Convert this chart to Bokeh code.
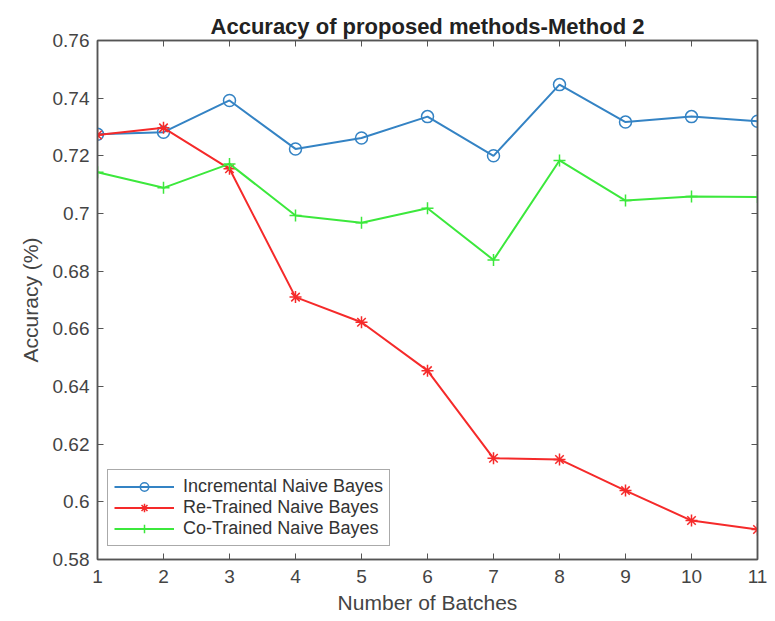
from bokeh.plotting import figure
from bokeh.models import FixedTicker, LinearAxis, Range1d, Legend
from bokeh.embed import file_html
from bokeh.resources import INLINE

batches = [1, 2, 3, 4, 5, 6, 7, 8, 9, 10, 11]
incremental = [0.7275, 0.7282, 0.7392, 0.7224, 0.7262, 0.7336, 0.7200, 0.7447, 0.7317, 0.7336, 0.7320]
retrained = [0.7272, 0.7297, 0.7155, 0.6710, 0.6623, 0.6455, 0.6151, 0.6147, 0.6039, 0.5935, 0.5904]
cotrained = [0.7143, 0.7089, 0.7172, 0.6993, 0.6968, 0.7018, 0.6839, 0.7184, 0.7045, 0.7059, 0.7057]
y_ticks = [0.58, 0.60, 0.62, 0.64, 0.66, 0.68, 0.70, 0.72, 0.74, 0.76]
y_tick_labels = ["0.58", "0.6", "0.62", "0.64", "0.66", "0.68", "0.7", "0.72", "0.74", "0.76"]

FONT = "Liberation Sans"
AXC = "#555555"
TXT = "#444444"

p = figure(width=775, height=621, output_backend="svg", toolbar_location=None,
           x_range=Range1d(1, 11), y_range=Range1d(0.58, 0.76),
           min_border_left=97, min_border_right=18, min_border_top=40, min_border_bottom=62)

p.title.text = "Accuracy of proposed methods-Method 2"
p.title.align = "center"
p.title.text_font = FONT
p.title.text_font_size = "22px"
p.title.text_font_style = "bold"
p.title.text_color = "#222222"
p.title.offset = 0
p.title.standoff = 4

p.grid.visible = False
p.outline_line_color = AXC
p.outline_line_width = 1.5

ymap = dict(zip(y_ticks, y_tick_labels))

for ax in [p.xaxis[0], p.yaxis[0]]:
    ax.major_tick_in = 6
    ax.major_tick_out = 0
    ax.minor_tick_in = 0
    ax.minor_tick_out = 0
    ax.axis_line_color = AXC
    ax.axis_line_width = 1.5
    ax.major_tick_line_color = AXC
    ax.major_label_text_font = FONT
    ax.major_label_text_font_size = "19px"
    ax.major_label_text_color = TXT
    ax.axis_label_text_font = FONT
    ax.axis_label_text_font_size = "21px"
    ax.axis_label_text_font_style = "normal"
    ax.axis_label_text_color = TXT

p.xaxis[0].ticker = FixedTicker(ticks=batches)
p.yaxis[0].ticker = FixedTicker(ticks=y_ticks)
p.yaxis[0].major_label_overrides = {t: l for t, l in ymap.items()}
p.xaxis[0].axis_label = "Number of Batches"
p.yaxis[0].axis_label = "Accuracy (%)"
p.xaxis[0].major_label_standoff = 10
p.yaxis[0].major_label_standoff = 8
p.xaxis[0].axis_label_standoff = 5
p.yaxis[0].axis_label_standoff = 8

right = LinearAxis(ticker=FixedTicker(ticks=y_ticks),
                   major_label_overrides={t: "" for t in y_ticks},
                   major_tick_in=6, major_tick_out=0, minor_tick_in=0, minor_tick_out=0,
                   axis_line_color=AXC, axis_line_width=1.5, major_tick_line_color=AXC)
top = LinearAxis(ticker=FixedTicker(ticks=batches),
                 major_label_overrides={t: "" for t in batches},
                 major_tick_in=6, major_tick_out=0, minor_tick_in=0, minor_tick_out=0,
                 axis_line_color=AXC, axis_line_width=1.5, major_tick_line_color=AXC)
p.add_layout(right, "right")
p.add_layout(top, "above")

BLUE = "#3483c4"
RED = "#f52a2a"
GREEN = "#3ce83c"

l1 = p.line(batches, incremental, line_color=BLUE, line_width=2)
m1 = p.scatter(batches, incremental, marker="circle", size=12, fill_color=None, line_color=BLUE, line_width=1.5)
l2 = p.line(batches, retrained, line_color=RED, line_width=2)
m2 = p.scatter(batches, retrained, marker="asterisk", size=12, line_color=RED, line_width=1.5)
l3 = p.line(batches, cotrained, line_color=GREEN, line_width=2)
m3 = p.scatter(batches, cotrained, marker="cross", size=12, line_color=GREEN, line_width=1.5)

legend = Legend(items=[("Incremental Naive Bayes", [l1, m1]),
                       ("Re-Trained Naive Bayes", [l2, m2]),
                       ("Co-Trained Naive Bayes", [l3, m3])],
                location=(10, 13))
legend.label_text_font = FONT
legend.label_text_font_size = "18px"
legend.label_text_color = "#333333"
legend.glyph_width = 60
legend.glyph_height = 21
legend.label_height = 21
legend.spacing = 0
legend.padding = 6
legend.margin = 0
legend.label_standoff = 9
legend.border_line_color = AXC
legend.border_line_width = 1.5
legend.background_fill_alpha = 1
p.add_layout(legend, "center")

open("out.html", "w").write(file_html(p, INLINE))
